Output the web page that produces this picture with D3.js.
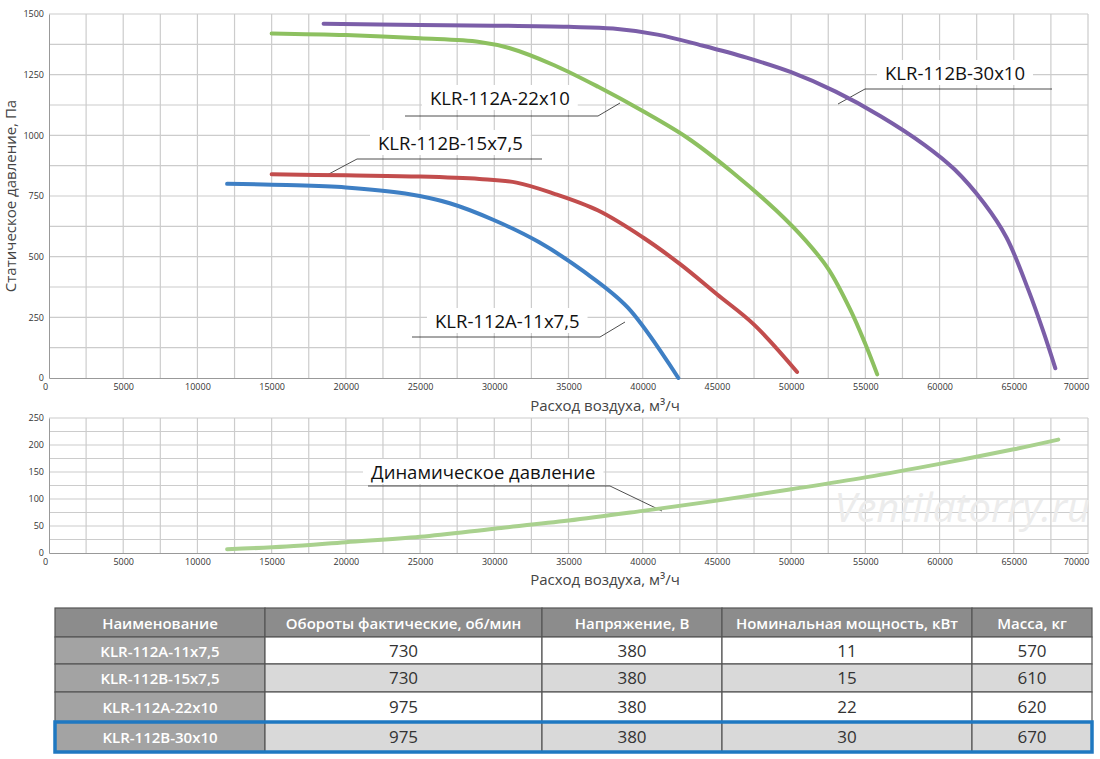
<!DOCTYPE html>
<html>
<head>
<meta charset="utf-8">
<script src="https://cdn.jsdelivr.net/npm/d3@7"></script>
<style>
  body { margin: 0; background: #fff; }
  text { font-family: "Open Sans", "Noto Sans", sans-serif; }
</style>
</head>
<body>
<svg id="chart" width="1100" height="759"></svg>
<script>
// curves: [flow m3/h, static pressure Pa]
var curve11 = [[12000,800],[16000,795],[20000,785],[24000,760],[27000,720],[30000,650],[33000,560],[36000,440],[39000,290],[42400,0]];
var curve15 = [[15000,840],[20000,835],[25000,830],[29000,820],[31500,805],[34000,760],[37000,690],[40000,580],[42500,470],[45000,345],[47500,220],[50400,25]];
var curve22 = [[15000,1420],[20000,1413],[25000,1400],[29000,1385],[31000,1360],[34000,1290],[37000,1200],[40000,1100],[43000,990],[46000,850],[49000,690],[51000,565],[52500,450],[54000,280],[55000,140],[55800,15]];
var curve30 = [[18500,1460],[25000,1455],[30000,1452],[35000,1447],[38000,1440],[41000,1415],[44000,1370],[47000,1320],[50000,1260],[53000,1180],[56000,1080],[59000,960],[61000,860],[63000,720],[64500,580],[66000,360],[67000,190],[67800,40]];
var dynamic = [[12000,7],[16000,12],[20000,20],[25000,30],[30000,45],[35000,60],[40000,78],[45000,97],[50000,118],[55000,140],[60000,165],[65000,192],[68000,210]];

var seriesNames = ["KLR-112A-11x7,5", "KLR-112B-15x7,5", "KLR-112A-22x10", "KLR-112B-30x10"];
var seriesColors = ["#3e7fc4", "#c24d4d", "#8dc060", "#7b5ea8"];

var xTicks = d3.range(0, 70001, 5000);
var yTicksTop = [0, 250, 500, 750, 1000, 1250, 1500];
var yTicksBottom = [0, 50, 100, 150, 200, 250];

var tableHeader = ["Наименование", "Обороты фактические, об/мин", "Напряжение, В", "Номинальная мощность, кВт", "Масса, кг"];
var rpm = [730, 730, 975, 975];
var voltage = [380, 380, 380, 380];
var power = [11, 15, 22, 30];
var mass = [570, 610, 620, 670];

var svg = d3.select("#chart");

var x = d3.scaleLinear().domain([0, 70000]).range([49, 1088]);
var yTop = d3.scaleLinear().domain([0, 1500]).range([378, 14]);
var yBot = d3.scaleLinear().domain([0, 250]).range([553, 418]);

function drawPanel(y, yTicks, minorStep, maxY) {
  var g = svg.append("g");
  g.selectAll("line.vg").data(d3.range(2500, 70001, 2500)).enter().append("line")
    .attr("x1", d => x(d)).attr("x2", d => x(d))
    .attr("y1", y(0)).attr("y2", y(maxY))
    .attr("stroke", "#cccccc").attr("stroke-width", 1.2);
  g.selectAll("line.hg").data(d3.range(minorStep, maxY + 1, minorStep)).enter().append("line")
    .attr("x1", x(0)).attr("x2", x(70000))
    .attr("y1", d => y(d)).attr("y2", d => y(d))
    .attr("stroke", "#cccccc").attr("stroke-width", 1.2);
  var ax = g.append("g").attr("transform", "translate(0," + y(0) + ")")
    .call(d3.axisBottom(x).tickValues(xTicks).tickSize(0).tickPadding(6).tickFormat(d3.format("d")));
  ax.select(".domain").attr("stroke", "#999");
  ax.selectAll("text").attr("font-size", 9).attr("fill", "#333");
  ax.selectAll(".tick").filter(d => d === 0).select("text").attr("dx", -4);
  ax.selectAll(".tick").filter(d => d === 70000).select("text").attr("dx", -12);
  var ay = g.append("g").attr("transform", "translate(" + x(0) + ",0)")
    .call(d3.axisLeft(y).tickValues(yTicks).tickSize(0).tickPadding(5).tickFormat(d3.format("d")));
  ay.select(".domain").attr("stroke", "#999");
  ay.selectAll("text").attr("font-size", 9).attr("fill", "#333");
  return g;
}

drawPanel(yTop, yTicksTop, 125, 1500);
drawPanel(yBot, yTicksBottom, 25, 250);

// axis titles
svg.append("text").attr("x", 605).attr("y", 411).attr("text-anchor", "middle")
  .attr("font-size", 15).attr("fill", "#444").text("Расход воздуха, м³/ч");
svg.append("text").attr("x", 605).attr("y", 585).attr("text-anchor", "middle")
  .attr("font-size", 15).attr("fill", "#444").text("Расход воздуха, м³/ч");
svg.append("text").attr("transform", "translate(16,196) rotate(-90)").attr("text-anchor", "middle")
  .attr("font-size", 15).attr("fill", "#444").text("Статическое давление, Па");

// watermark
svg.append("text").attr("x", 1090).attr("y", 522).attr("text-anchor", "end")
  .attr("font-size", 40).attr("font-style", "italic").attr("fill", "#ececec").text("Ventilatorry.ru");

// callout labels: text position, underline span, leader end
function callout(label, tx, ty, ux1, ux2, uy, lx, ly, leaderFrom) {
  var bg = svg.append("rect").attr("fill", "#fff");
  var t = svg.append("text").attr("x", tx).attr("y", ty).attr("font-size", 18.5).attr("fill", "#111").text(label);
  var bb = t.node().getBBox();
  bg.attr("x", bb.x - 8).attr("y", bb.y).attr("width", bb.width + 16).attr("height", bb.height);
  svg.append("line").attr("x1", ux1).attr("x2", ux2).attr("y1", uy).attr("y2", uy).attr("stroke", "#222").attr("stroke-width", 0.8);
  var fx = leaderFrom === "left" ? ux1 : ux2;
  svg.append("line").attr("x1", fx).attr("x2", lx).attr("y1", uy).attr("y2", ly).attr("stroke", "#222").attr("stroke-width", 0.8);
}
callout(seriesNames[3], 885, 80, 865, 1052, 89, 838, 104, "left");
callout(seriesNames[2], 430, 105, 405, 598, 116, 620, 103, "right");
callout(seriesNames[1], 378, 150, 357, 542, 159, 327, 175, "left");
callout(seriesNames[0], 435, 328, 412, 600, 337, 625, 322, "right");
callout("Динамическое давление", 371, 479, 368, 610, 486, 662, 511, "right");

var line = d3.line().curve(d3.curveCatmullRom.alpha(0.5));

var curves = [curve11, curve15, curve22, curve30];
curves.forEach(function(c, i) {
  svg.append("path")
    .attr("d", line.x(d => x(d[0])).y(d => yTop(d[1]))(c))
    .attr("fill", "none").attr("stroke", seriesColors[i])
    .attr("stroke-width", 4).attr("stroke-linecap", "round");
});
svg.append("path")
  .attr("d", line.x(d => x(d[0])).y(d => yBot(d[1]))(dynamic))
  .attr("fill", "none").attr("stroke", "#a9d18e")
  .attr("stroke-width", 4).attr("stroke-linecap", "round");

// table
var colX = [55, 265, 542, 722, 972, 1092];
var rowY = [608, 637, 664, 692, 722, 752];
var rows = seriesNames.map((n, i) => [n, rpm[i], voltage[i], power[i], mass[i]]);
var tg = svg.append("g");
function cell(r, c, fill, txt, color, bold) {
  tg.append("rect").attr("x", colX[c]).attr("y", rowY[r]).attr("width", colX[c + 1] - colX[c]).attr("height", rowY[r + 1] - rowY[r])
    .attr("fill", fill).attr("stroke", "#555").attr("stroke-width", 1.2);
  tg.append("text").attr("x", (colX[c] + colX[c + 1]) / 2).attr("y", (rowY[r] + rowY[r + 1]) / 2 + 6)
    .attr("text-anchor", "middle").attr("font-size", bold ? 15 : 17).attr("font-weight", bold ? 600 : 400)
    .attr("fill", color).text(txt);
}
tableHeader.forEach((h, c) => cell(0, c, "#8c8c8c", h, "#fff", true));
rows.forEach(function(row, r) {
  row.forEach(function(v, c) {
    if (c === 0) cell(r + 1, c, "#a3a3a3", v, "#fff", true);
    else cell(r + 1, c, r % 2 === 0 ? "#ffffff" : "#d9d9d9", v, "#333", false);
  });
});
tg.append("rect").attr("x", colX[0]).attr("y", rowY[4]).attr("width", colX[5] - colX[0]).attr("height", rowY[5] - rowY[4])
  .attr("fill", "none").attr("stroke", "#1f78c1").attr("stroke-width", 3.5);
</script>
</body>
</html>
